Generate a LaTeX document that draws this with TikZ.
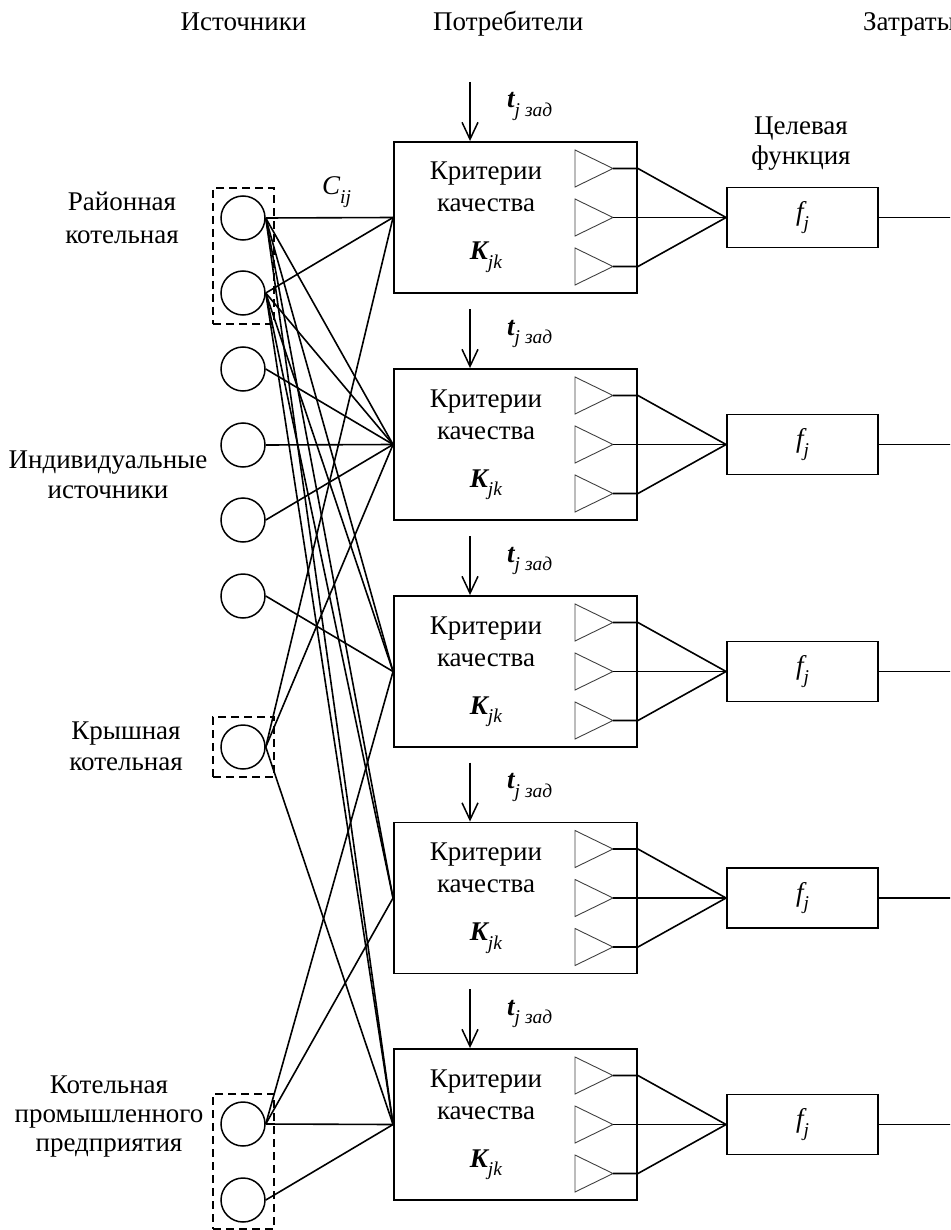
\documentclass[tikz,border=0pt]{standalone}
\usepackage{fontspec}
\setmainfont{Liberation Serif}
\usetikzlibrary{arrows.meta}
\newcommand{\mysub}[1]{\raisebox{-0.32em}{\fontsize{19.5}{20}\selectfont\itshape #1}}
\begin{document}
\begin{tikzpicture}[x=1pt,y=-1pt,
  lbl/.style={font=\fontsize{27}{32}\selectfont, inner sep=0pt},
  src/.style={circle, draw, minimum size=44pt, inner sep=0pt, line width=1.5pt},
  cons/.style={draw, minimum width=243pt, minimum height=151pt, inner sep=0pt, line width=1.9pt},
  fbox/.style={draw, minimum width=151pt, minimum height=60pt, inner sep=0pt, line width=1.9pt, font=\fontsize{27}{32}\selectfont},
  grp/.style={draw, dash pattern=on 8pt off 5pt, line width=1.7pt, inner sep=0pt},
  conn/.style={line width=1.6pt},
  tri/.style={draw=black!75, line width=0.9pt},
  inarrow/.style={line width=1.5pt, -{Straight Barb[length=17pt,width=16pt,line width=1.5pt]}}
]
\useasboundingbox (0,0) rectangle (950,1230);
\clip (0,0) rectangle (950,1230);

% headers
\node[lbl, anchor=base] (hsrc) at (243.5,31) {Источники};
\node[lbl, anchor=base west] (hcons) at (433,31) {Потребители};
\node[lbl, anchor=base west] (hcost) at (863,31) {Затраты};

% source labels
\node[lbl, anchor=base] (l1a) at (122,210.5) {Районная};
\node[lbl, anchor=base] (l1b) at (122,244) {котельная};
\node[lbl, anchor=base] (l2a) at (108,468) {Индивидуальные};
\node[lbl, anchor=base] (l2b) at (108,498.5) {источники};
\node[lbl, anchor=base] (l3a) at (126,739) {Крышная};
\node[lbl, anchor=base] (l3b) at (126,770) {котельная};
\node[lbl, anchor=base] (l4a) at (109,1093) {Котельная};
\node[lbl, anchor=base] (l4b) at (109,1122) {промышленного};
\node[lbl, anchor=base] (l4c) at (109,1151) {предприятия};

% dashed groups
\node[grp, minimum width=61pt, minimum height=136pt] (g1) at (243.5,256) {};
\node[grp, minimum width=61pt, minimum height=60pt] (g2) at (243.5,747) {};
\node[grp, minimum width=61pt, minimum height=135pt] (g3) at (243.5,1161.5) {};

% sources
\node[src] (s1) at (243,218) {};
\node[src] (s2) at (243,293) {};
\node[src] (s3) at (243,369) {};
\node[src] (s4) at (243,445) {};
\node[src] (s5) at (243,520) {};
\node[src] (s6) at (243,596) {};
\node[src] (s7) at (243,747) {};
\node[src] (s8) at (243,1124) {};
\node[src] (s9) at (243,1200) {};

\node[lbl, anchor=base west] (cij) at (322,195) {\itshape C\mysub{ij}};

% objective function label
\node[lbl, anchor=base] (tf1) at (801,135) {Целевая};
\node[lbl, anchor=base] (tf2) at (801,165) {функция};

% consumers
\foreach \i/\c in {1/217.5,2/444.5,3/671.5,4/898,5/1124.5}{
  \pgfmathsetmacro\ctop{\c-75.5}
  \node[cons] (c\i) at (515.5,\c) {};
  \node[lbl, anchor=base] at (486,{\ctop+38}) {Критерии};
  \node[lbl, anchor=base] at (486,{\ctop+70}) {качества};
  \node[lbl, anchor=base] at (486,{\ctop+118}) {{\bfseries\itshape K}\mysub{jk}};
  % incoming arrow
  \coordinate (a\i) at (470,{\ctop-60});
  \draw[inarrow] (a\i) -- (a\i |- c\i.north);
  \node[lbl, anchor=base west] at (507,{\ctop-34}) {{\bfseries\itshape t}\mysub{j зад}};
  % triangles
  \foreach \k in {-49,0,49}{
    \draw[tri] (575,{\c+\k-18.5}) -- (613,{\c+\k}) -- (575,{\c+\k+18.5}) -- cycle;
  }
  \coordinate (ta\i) at (613,{\c-49});
  \coordinate (tb\i) at (613,\c);
  \coordinate (tc\i) at (613,{\c+49});
  % objective box
  \node[fbox] (f\i) at (802.5,\c) {\raisebox{0.1em}{\itshape f\mysub{j}}};
  \draw[conn] (ta\i) -- (ta\i -| c\i.east) -- (f\i.west);
  \draw[conn] (tb\i) -- (f\i.west);
  \draw[conn] (tc\i) -- (tc\i -| c\i.east) -- (f\i.west);
  \coordinate (e\i) at (955,\c);
  \draw[conn] (f\i.east) -- (e\i);
}

% source-consumer links
\foreach \s/\t in {s1/c1,s1/c2,s1/c3,s1/c4,s1/c5,
                   s2/c1,s2/c2,s2/c3,s2/c4,s2/c5,
                   s3/c2,s4/c2,s5/c2,s6/c3,
                   s7/c1,s7/c2,s7/c5,
                   s8/c3,s8/c4,s8/c5,s9/c5}{
  \draw[conn] (\s.east) -- (\t.west);
}
\end{tikzpicture}
\end{document}
